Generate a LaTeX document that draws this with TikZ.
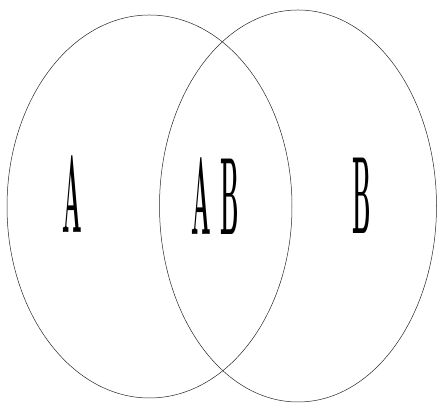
\documentclass[tikz,border=0pt]{standalone}
\tikzset{
  setline/.style={draw=black!85, line width=0.5pt},
  setlabel/.style={inner sep=0pt, anchor=center, font=\fontsize{110}{110}\selectfont\bfseries}
}
\newcommand{\narrow}[1]{\scalebox{0.21}[1]{#1}}
\begin{document}
\begin{tikzpicture}[x=1pt,y=1pt]
  \useasboundingbox (0,0) rectangle (437,403);
  \draw[setline] (149.5,196.5) ellipse [x radius=142.5, y radius=191.5];
  \draw[setline] (298,197) ellipse [x radius=138.5, y radius=196];
  \node[setlabel] (a) at (72.5,209) {\narrow{A}};
  \node[setlabel] (ab) at (215,207) {\narrow{A\hspace{45pt}B}};
  \node[setlabel] (b) at (362,207) {\narrow{B}};
\end{tikzpicture}
\end{document}
